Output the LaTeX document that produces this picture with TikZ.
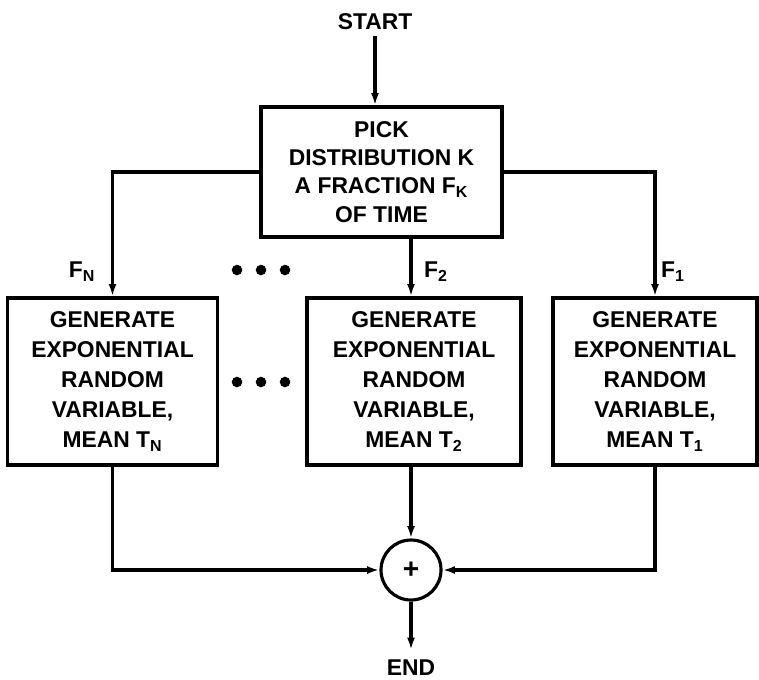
\documentclass[tikz,border=0pt]{standalone}
\usepackage{fontspec}
\setmainfont{Liberation Sans}
\usetikzlibrary{arrows.meta}
\begin{document}
\begin{tikzpicture}[
  x=0.02cm, y=-0.02cm,
  >={Latex[length=7pt,width=4.5pt]},
  font=\fontsize{13}{17}\selectfont\bfseries,
  flow/.style={line width=2pt},
  procbox/.style={draw, line width=1.8pt, align=center, inner sep=0pt},
  genbox/.style={procbox, minimum width=4.2cm, minimum height=3.34cm},
  flowlabel/.style={font=\fontsize{13}{15}\selectfont\bfseries}
]
\useasboundingbox (0,0) rectangle (759,679);

% ── Start and selection box ─────────────────────────────────────
\node (start) at (375,22) {START};
\node[procbox, minimum width=4.82cm, minimum height=2.6cm,
      font=\fontsize{13}{16}\selectfont\bfseries] (pick) at (381.5,172)
  {PICK\\DISTRIBUTION K\\A FRACTION F\textsubscript{K}\\OF TIME};

% ── Generator boxes (N ... 2, 1) ────────────────────────────────
\node[genbox] (genN) at (112.5,381.5)
  {GENERATE\\EXPONENTIAL\\RANDOM\\VARIABLE,\\MEAN T\textsubscript{N}};
\node[genbox, minimum width=4.28cm] (gen2) at (414,381.5)
  {GENERATE\\EXPONENTIAL\\RANDOM\\VARIABLE,\\MEAN T\textsubscript{2}};
\node[genbox, minimum width=4.08cm] (gen1) at (655,381.5)
  {GENERATE\\EXPONENTIAL\\RANDOM\\VARIABLE,\\MEAN T\textsubscript{1}};

% ── Summing junction and end ────────────────────────────────────
\node[draw, circle, line width=1.8pt, minimum size=1.2cm, inner sep=0pt,
      font=\fontsize{16}{16}\selectfont\bfseries] (sum) at (411,570) {+};
\coordinate (endtip) at (411,650);
\node (finish) at (411,668) {END};

% ── Branch labels and ellipses ──────────────────────────────────
\node[flowlabel] (fN) at (82,272) {F\textsubscript{N}};
\node[flowlabel] (f2) at (436,272) {F\textsubscript{2}};
\node[flowlabel] (f1) at (673,272) {F\textsubscript{1}};
\foreach \y in {270,382}
  \foreach \x in {237,261,285}
    \fill (\x,\y) circle (3pt);

% ── Connectors ──────────────────────────────────────────────────
\draw[flow,->] (start.south) -- (start.south |- pick.north);
\draw[flow,->] (pick.west) -| (genN.north);
\draw[flow,->] (pick.east) -| (gen1.north);
\draw[flow,->] (pick.south -| sum) -- (gen2.north -| sum);
\draw[flow,->] (genN.south) |- (sum.west);
\draw[flow,->] (gen1.south) |- (sum.east);
\draw[flow,->] (gen2.south -| sum) -- (sum.north);
\draw[flow,->] (sum.south) -- (endtip);

\end{tikzpicture}
\end{document}
